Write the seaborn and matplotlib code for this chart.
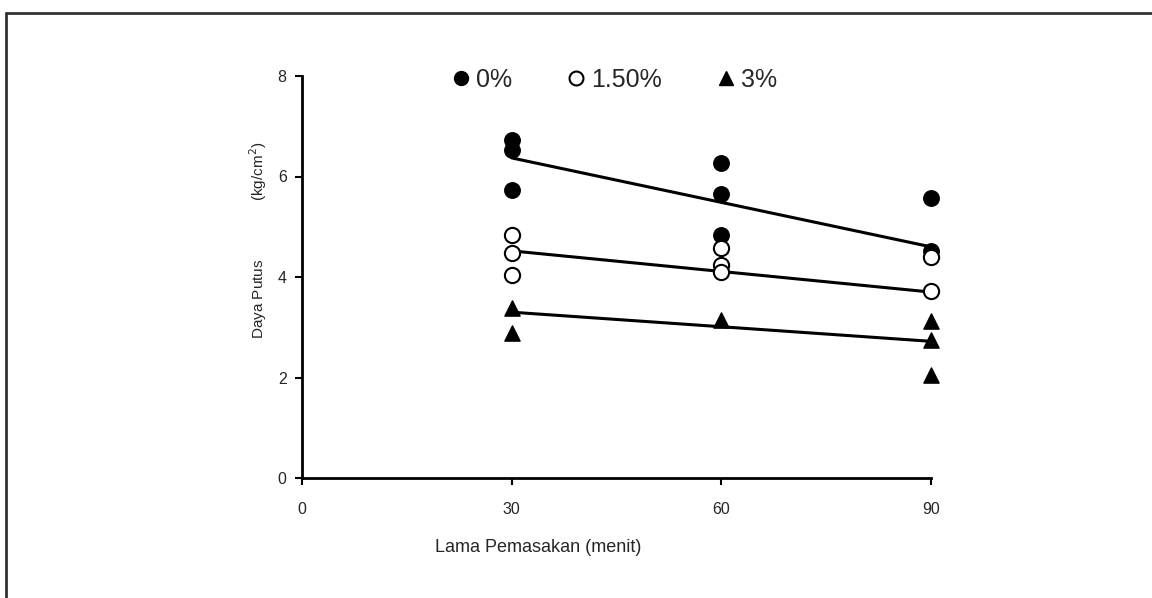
import matplotlib
matplotlib.use("Agg")
import matplotlib.pyplot as plt
import seaborn as sns
import pandas as pd
from matplotlib.lines import Line2D

sns.set_theme(style="white")
plt.rcParams['font.family'] = ['Liberation Sans', 'DejaVu Sans']

# Observed points (cooking time, breaking strength)
x_0 = [30, 30, 30, 60, 60, 60, 90, 90]
y_0 = [6.72, 6.52, 5.73, 6.27, 5.65, 4.84, 5.58, 4.52]
x_15 = [30, 30, 30, 60, 60, 60, 90, 90]
y_15 = [4.84, 4.48, 4.04, 4.58, 4.24, 4.10, 4.40, 3.72]
x_3 = [30, 30, 60, 90, 90, 90]
y_3 = [3.38, 2.88, 3.15, 3.12, 2.75, 2.05]

# Trend lines
trend_x = [30, 90]
trend_0 = [6.37, 4.60]
trend_15 = [4.52, 3.70]
trend_3 = [3.30, 2.72]

legend_labels = ["0%", "1.50%", "3%"]
xticks = [0, 30, 60, 90]
yticks = [0, 2, 4, 6, 8]

fig = plt.figure(figsize=(11.52, 5.98), dpi=100)
ax = fig.add_axes([302/1152, 1 - 478/598, 629/1152, 402/598])

for ty in (trend_0, trend_15, trend_3):
    sns.lineplot(x=trend_x, y=ty, ax=ax, color="black", linewidth=2.2, zorder=2)

sns.scatterplot(x=x_0, y=y_0, ax=ax, marker="o", s=120, color="black",
                edgecolor="black", linewidth=1.2, zorder=3, clip_on=False)
sns.scatterplot(x=x_15, y=y_15, ax=ax, marker="o", s=120, facecolor="white",
                edgecolor="black", linewidth=1.5, zorder=3, clip_on=False)
sns.scatterplot(x=x_3, y=y_3, ax=ax, marker="^", s=120, color="black",
                edgecolor="black", linewidth=1.0, zorder=3, clip_on=False)

ax.set_xlim(0, 90)
ax.set_ylim(0, 8)
ax.set_xticks(xticks)
ax.set_yticks(yticks)
ax.set_xticklabels([str(v) for v in xticks], fontsize=11.5)
ax.set_yticklabels([str(v) for v in yticks], fontsize=11.5)
ax.tick_params(axis="both", direction="out", length=5, width=1.5, color="black",
               bottom=True, left=True)
ax.tick_params(axis="x", pad=12)
ax.tick_params(axis="y", pad=6)
for side in ("top", "right"):
    ax.spines[side].set_visible(False)
for side in ("left", "bottom"):
    ax.spines[side].set_color("black")
    ax.spines[side].set_linewidth(2)

ax.set_xlabel("Lama Pemasakan (menit)", fontsize=13, labelpad=16, x=0.375)
ax.set_ylabel("Daya Putus" + " " * 14 + "(kg/cm$^2$)", fontsize=11, labelpad=6, y=0.592)

handles = [
    Line2D([], [], marker="o", linestyle="none", markersize=10, markerfacecolor="black", markeredgecolor="black"),
    Line2D([], [], marker="o", linestyle="none", markersize=10, markerfacecolor="white", markeredgecolor="black", markeredgewidth=1.5),
    Line2D([], [], marker="^", linestyle="none", markersize=10, markerfacecolor="black", markeredgecolor="black"),
]
ax.legend(handles, legend_labels, loc="center", bbox_to_anchor=(0.494, 0.99), ncol=3,
          frameon=False, fontsize=18, handletextpad=0.1, columnspacing=2.05, handlelength=1.0,
          borderaxespad=0, borderpad=0)

# outer frame lines
fig.add_artist(Line2D([6/1152, 1.0], [1 - 13/598, 1 - 13/598], color="#333333", linewidth=2))
fig.add_artist(Line2D([6/1152, 6/1152], [0, 1 - 13/598], color="#333333", linewidth=2))

fig.savefig("out.png", dpi=100)
